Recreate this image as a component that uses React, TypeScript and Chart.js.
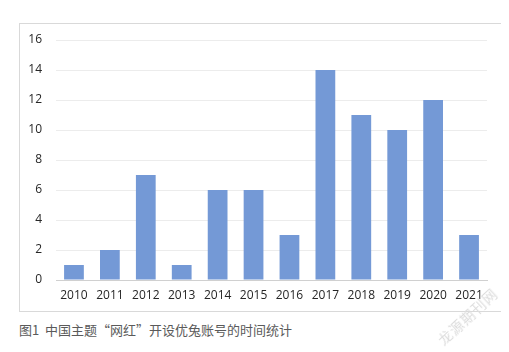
import React, { useEffect, useRef } from "react";
import { Chart, registerables } from "chart.js";

Chart.register(...registerables);

const categories = ["2010", "2011", "2012", "2013", "2014", "2015", "2016", "2017", "2018", "2019", "2020", "2021"];
const values = [1, 2, 7, 1, 6, 6, 3, 14, 11, 10, 12, 3];
const yTicks = [0, 2, 4, 6, 8, 10, 12, 14, 16];
const caption = "图1  中国主题“网红”开设优兔账号的时间统计";
const watermark = "龙源期刊网";

export default function App() {
  const ref = useRef<HTMLCanvasElement | null>(null);

  useEffect(() => {
    if (!ref.current) return;
    const chart = new Chart(ref.current, {
      type: "bar",
      data: {
        labels: categories,
        datasets: [
          {
            data: values,
            backgroundColor: "rgb(116,153,214)",
            barPercentage: 0.55,
            categoryPercentage: 1,
          },
        ],
      },
      options: {
        animation: false,
        responsive: false,
        maintainAspectRatio: false,
        layout: { padding: { left: 0, right: 16, top: 16, bottom: 0 } },
        plugins: { legend: { display: false }, tooltip: { enabled: false } },
        scales: {
          x: {
            grid: { display: false, drawTicks: false },
            border: { display: true, color: "#d0d0d0", width: 1 },
            ticks: {
              color: "#262626",
              font: { family: "Open Sans", size: 12 },
              padding: 8,
              maxRotation: 0,
            },
            afterFit: (s: any) => {
              s.height = 31;
              s.paddingLeft = 0;
              s.paddingRight = 0;
            },
          },
          y: {
            min: 0,
            max: 16,
            afterBuildTicks: (s: any) => {
              s.ticks = yTicks.map((v) => ({ value: v }));
            },
            grid: { color: "#ececec", drawTicks: false, lineWidth: 1 },
            border: { display: false },
            ticks: {
              color: "#262626",
              font: { family: "Open Sans", size: 12 },
              padding: 14,
              stepSize: 2,
            },
            afterFit: (s: any) => {
              s.width = 36;
              s.paddingTop = 0;
              s.paddingBottom = 0;
            },
          },
        },
      },
    });
    return () => chart.destroy();
  }, []);

  return (
    <div style={{ position: "relative", width: 509, height: 352, margin: "-8px 0 0 -8px", background: "#fff", overflow: "hidden" }}>
      <div
        style={{
          position: "absolute",
          left: 19,
          top: 23,
          width: 483,
          height: 287,
          border: "1px solid #d9d9d9",
        }}
      >
        <canvas ref={ref} width={483} height={287} style={{ display: "block" }} />
      </div>
      <div
        style={{
          position: "absolute",
          left: 19,
          top: 321,
          fontFamily: "Noto Sans CJK SC",
          fontSize: 13,
          color: "#5a5a5a",
          whiteSpace: "pre",
          lineHeight: "18px",
        }}
      >
        {caption}
      </div>
      <div
        style={{
          position: "absolute",
          left: 425,
          top: 308,
          width: 84,
          textAlign: "center",
          fontFamily: "Noto Sans CJK SC",
          fontSize: 14,
          letterSpacing: 1,
          color: "#dcdcdc",
          transform: "rotate(-43deg)",
          whiteSpace: "pre",
          lineHeight: "16px",
        }}
      >
        {watermark}
      </div>
    </div>
  );
}
